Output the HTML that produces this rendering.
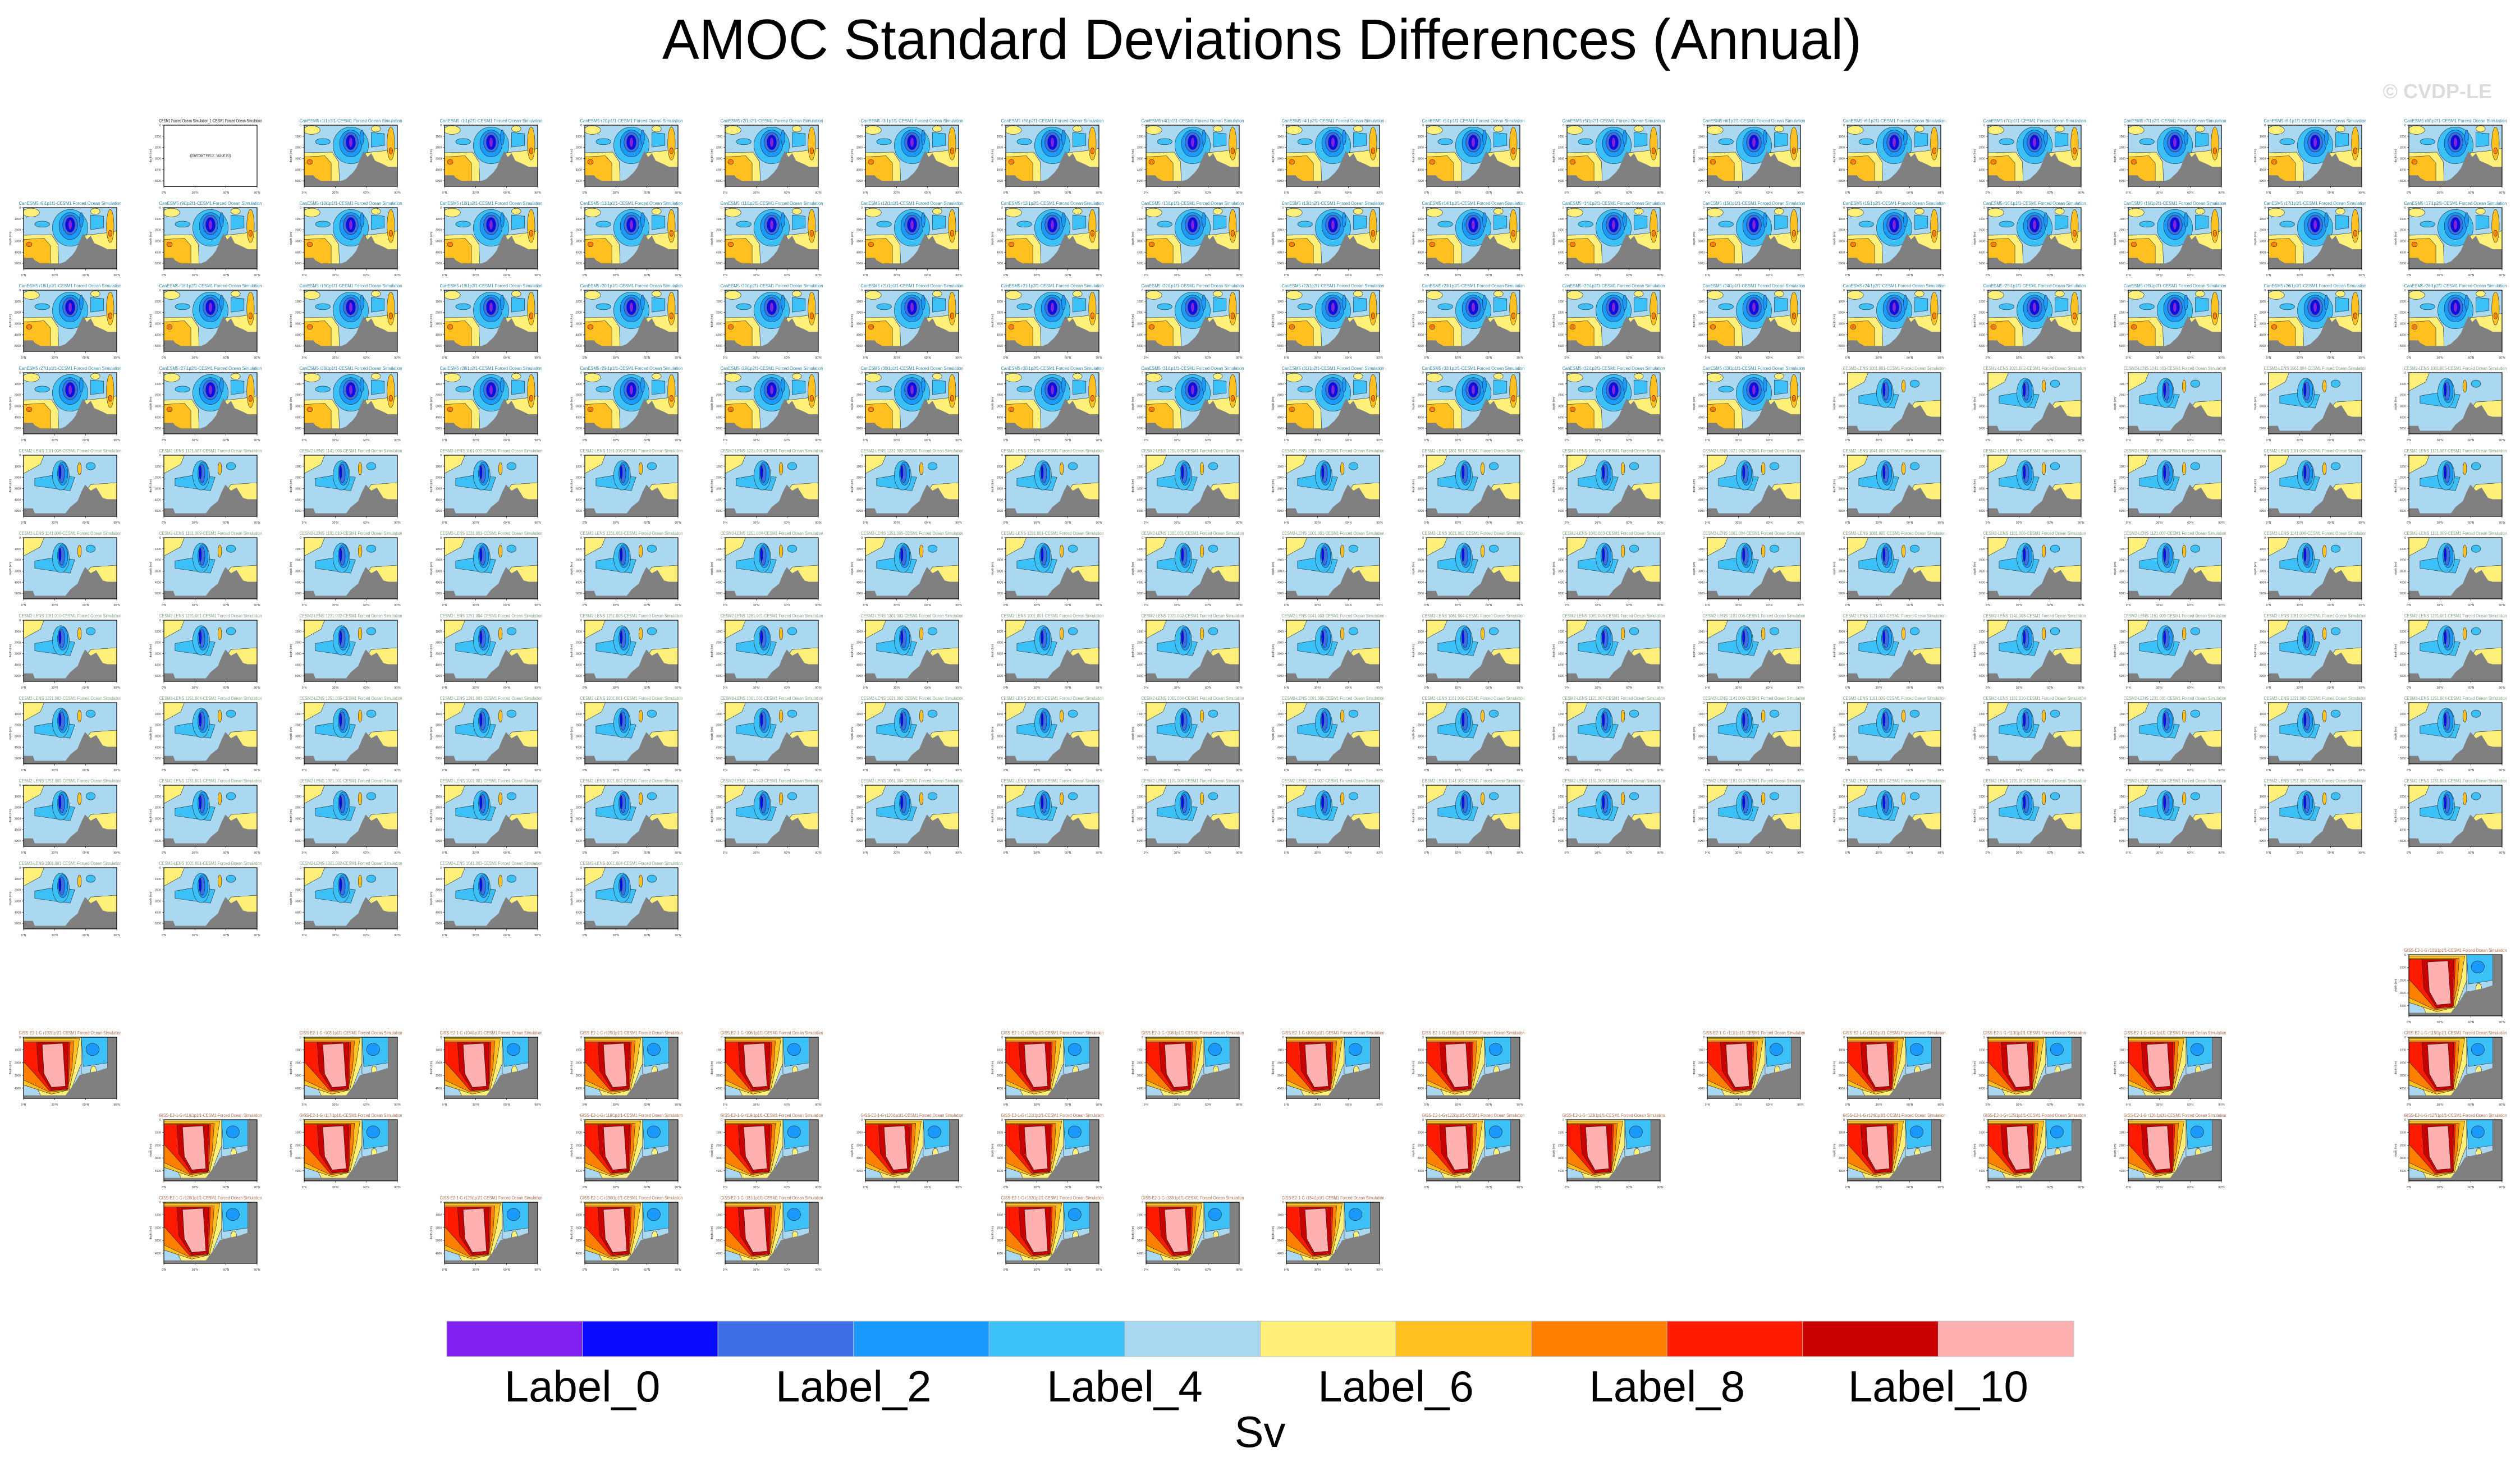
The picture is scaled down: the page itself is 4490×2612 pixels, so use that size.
<!DOCTYPE html>
<html><head><meta charset="utf-8"><title>AMOC Standard Deviations Differences (Annual)</title>
<style>html,body{margin:0;padding:0;background:#fff}svg{display:block;font-family:"Liberation Sans",sans-serif}</style>
</head><body>
<svg id="fig" xmlns="http://www.w3.org/2000/svg" width="4490" height="2612" viewBox="0 0 4490 2612">
<rect width="4490" height="2612" fill="#fff"/>
<text x="1180" y="105" font-size="101" textLength="2137" lengthAdjust="spacingAndGlyphs">AMOC Standard Deviations Differences (Annual)</text>
<text x="4440" y="175" font-size="36" font-weight="bold" fill="#dcdcdc" text-anchor="end">© CVDP-LE</text>
<g id="panels"></g>
<g id="cbar"></g>
</svg>
<script>
const colorbarColors = ["#8020EE","#0A0AFF","#3E6EE6","#1A9AFF","#3CC0F8","#AAD8F0","#FFF07A","#FFC020","#FF8000","#FF1A00","#C80000","#FFB0B0"];
const colorbarLabels = ["Label_0","Label_2","Label_4","Label_6","Label_8","Label_10"];
const yTickLabels = ["0","1000","2000","3000","4000","5000"];
const xTickLabels = ["0°N","30°N","60°N","90°N"];
const upperRows = [
  [1,2,3,4,5,6,7,8,9,10,11,12,13,14,15,16,17],
  [0,1,2,3,4,5,6,7,8,9,10,11,12,13,14,15,16,17],
  [0,1,2,3,4,5,6,7,8,9,10,11,12,13,14,15,16,17],
  [0,1,2,3,4,5,6,7,8,9,10,11,12,13,14,15,16,17],
  [0,1,2,3,4,5,6,7,8,9,10,11,12,13,14,15,16,17],
  [0,1,2,3,4,5,6,7,8,9,10,11,12,13,14,15,16,17],
  [0,1,2,3,4,5,6,7,8,9,10,11,12,13,14,15,16,17],
  [0,1,2,3,4,5,6,7,8,9,10,11,12,13,14,15,16,17],
  [0,1,2,3,4,5,6,7,8,9,10,11,12,13,14,15,16,17],
  [0,1,2,3,4]
];
const lowerRows = [
  [17],
  [0,2,3,4,5,7,8,9,10,12,13,14,15,17],
  [1,2,4,5,6,7,10,11,13,14,15,17],
  [1,3,4,5,7,8,9]
];
const NS="http://www.w3.org/2000/svg";
const PW=166, PH=109;
function colX(c){return 42+250*c;}
function rowY(r){return 223+147*r;}
function lowY(r){return 1701+147*r;}
function el(tag,attrs,parent){const e=document.createElementNS(NS,tag);for(const k in attrs)e.setAttribute(k,attrs[k]);if(parent)parent.appendChild(e);return e;}

const tA=[
 ["#FFF07A","E",.08,.08,.09,.07],
 ["#3CC0F8","E",.2,.27,.08,.05],
 ["#FFF07A","P",[[0,.45],[.3,.44],[.37,.6],[.38,1],[0,1]]],
 ["#FFC020","P",[[0,.52],[.22,.5],[.29,.62],[.29,.92],[0,.92]]],
 ["#FF8000","E",.06,.6,.03,.04],
 ["#3CC0F8","E",.5,.33,.19,.3],
 ["#1A9AFF","E",.5,.3,.12,.22],
 ["#3E6EE6","E",.5,.28,.08,.16],
 ["#0A0AFF","E",.5,.28,.05,.12],
 ["#8020EE","E",.5,.28,.02,.08],
 ["#FFF07A","P",[[.66,.45],[.85,.42],[1,.38],[1,1],[.6,1]]],
 ["#3CC0F8","P",[[.72,.12],[.86,.14],[.86,.33],[.72,.36]]],
 ["#1A9AFF","E",.62,.2,.02,.12],
 ["#FFF07A","E",.77,.06,.05,.05],
 ["#FFC020","E",.93,.3,.04,.27],
 ["#FF8000","E",.93,.42,.02,.05],
 ["#808080","P",[[0,.82],[.1,.82],[.12,.86],[.18,.91],[.4,.91],[.45,.88],[.52,.78],[.56,.7],[.6,.55],[.64,.42],[.68,.52],[.72,.46],[.76,.58],[.85,.64],[.9,.68],[1,.68],[1,1],[0,1]]]
];
const tB=[
 ["#FFF07A","P",[[0,0],[.22,0],[.18,.15],[0,.3]]],
 ["#3CC0F8","P",[[.12,.38],[.35,.32],[.55,.36],[.5,.58],[.35,.55],[.12,.5]]],
 ["#3CC0F8","E",.4,.33,.09,.24],
 ["#1A9AFF","E",.42,.3,.055,.19],
 ["#3E6EE6","E",.41,.3,.03,.15],
 ["#0A0AFF","E",.39,.28,.013,.11],
 ["#FFC020","E",.6,.22,.02,.1],
 ["#3CC0F8","E",.72,.18,.05,.06],
 ["#FFF07A","P",[[.72,.48],[1,.45],[1,1],[.6,1],[.62,.7]]],
 ["#808080","P",[[0,.87],[.1,.87],[.12,.95],[.45,.95],[.5,.85],[.58,.75],[.62,.6],[.66,.48],[.72,.58],[.78,.53],[.85,.7],[.9,.72],[1,.72],[1,1],[0,1]]]
];
const tC=[
 ["#FFF07A","P",[[0,0],[.66,0],[.66,.3],[.6,.5],[.5,.9],[.42,1],[0,1]]],
 ["#AAD8F0","P",[[0,.78],[.15,.85],[.2,1],[0,1]]],
 ["#FFC020","P",[[0,.02],[.6,.02],[.56,.4],[.49,.86],[.3,.93],[0,.78]]],
 ["#FF8000","P",[[0,.06],[.54,.06],[.52,.5],[.47,.86],[.28,.9],[0,.7]]],
 ["#FF1A00","P",[[0,.08],[.5,.08],[.48,.84],[.28,.88],[.12,.6],[0,.4]]],
 ["#C80000","P",[[.14,.08],[.48,.08],[.47,.85],[.3,.87],[.16,.55]]],
 ["#FFB0B0","P",[[.2,.12],[.42,.1],[.45,.8],[.3,.82],[.22,.6]]],
 ["#AAD8F0","P",[[.62,0],[.9,0],[.9,.62],[.62,.6]]],
 ["#3CC0F8","P",[[.62,0],[.9,0],[.9,.42],[.64,.48]]],
 ["#1A9AFF","E",.74,.2,.07,.1],
 ["#FFF07A","E",.75,.55,.03,.08],
 ["#808080","P",[[.9,0],[1,0],[1,1],[0,1],[0,.95],[.45,.95],[.55,.75],[.6,.62],[.7,.58],[.8,.55],[.9,.5]]]
];

function drawShapes(g,tpl,x0,y0){
  tpl.forEach(s=>{
    if(s[1]==="E"){
      el("ellipse",{cx:x0+s[2]*PW,cy:y0+s[3]*PH,rx:s[4]*PW,ry:s[5]*PH,fill:s[0],stroke:"#222","stroke-width":0.6},g);
    }else{
      const pts=s[2].map(p=>(x0+p[0]*PW).toFixed(1)+","+(y0+p[1]*PH).toFixed(1)).join(" ");
      el("polygon",{points:pts,fill:s[0],stroke:s[0]==="#808080"?"none":"#222","stroke-width":0.6},g);
    }
  });
}

function drawPanel(parent,x0,y0,type,title,tcolor){
  const g=el("g",{},parent);
  
  
  const t=el("text",{x:x0+PW/2,y:y0-5,"font-size":8,"text-anchor":"middle",fill:tcolor,textLength:183,lengthAdjust:"spacingAndGlyphs"},g);
  t.textContent=title;
  
  
  const cp="c"+Math.round(x0)+"_"+Math.round(y0);
  const clip=el("clipPath",{id:cp},g);el("rect",{x:x0,y:y0,width:PW,height:PH},clip);
  const inner=el("g",{"clip-path":"url(#"+cp+")"},g);
  if(type==="A"){el("rect",{x:x0,y:y0,width:PW,height:PH,fill:"#AAD8F0"},inner);drawShapes(inner,tA,x0,y0);}
  else if(type==="B"){el("rect",{x:x0,y:y0,width:PW,height:PH,fill:"#AAD8F0"},inner);drawShapes(inner,tB,x0,y0);}
  else if(type==="C"){el("rect",{x:x0,y:y0,width:PW,height:PH,fill:"#AAD8F0"},inner);drawShapes(inner,tC,x0,y0);}
  else{const b=el("text",{x:x0+PW/2,y:y0+PH/2+2,"font-size":5,"text-anchor":"middle"},g);b.textContent="CONSTANT FIELD - VALUE IS 0";
    el("rect",{x:x0+48,y:y0+PH/2-3,width:70,height:7,fill:"none",stroke:"#444","stroke-width":0.6},g);
    el("line",{x1:x0,y1:y0+PH,x2:x0+PW,y2:y0+PH,stroke:"#aaa","stroke-width":2},g);}
  el("rect",{x:x0,y:y0,width:PW,height:PH,fill:"none",stroke:"#000","stroke-width":1.2},g);
  const nY= type==="C"?5:6;
  for(let i=0;i<nY;i++){
    const yy=y0+i*(PH/(type==="C"?4.8:5.5));
    el("line",{x1:x0-3,y1:yy,x2:x0,y2:yy,stroke:"#000","stroke-width":0.6},g);
    const l=el("text",{x:x0-5,y:yy+2,"font-size":5,"text-anchor":"end",fill:"#333"},g);l.textContent=yTickLabels[i];
  }
  const yl=el("text",{x:x0-22,y:y0+PH/2,"font-size":5,"text-anchor":"middle",fill:"#333",transform:"rotate(-90 "+(x0-22)+" "+(y0+PH/2)+")"},g);yl.textContent="depth (km)";
  xTickLabels.forEach((s,i)=>{
    const xx=x0+i*PW/3;
    el("line",{x1:xx,y1:y0+PH,x2:xx,y2:y0+PH+3,stroke:"#000","stroke-width":0.6},g);
    const l=el("text",{x:xx,y:y0+PH+13,"font-size":5,"text-anchor":"middle",fill:"#333"},g);l.textContent=s;
  });
}

const panels=document.getElementById("panels");
let canN=0,cesmN=0,gissN=0;
const cesmIds=["1001.001","1021.002","1041.003","1061.004","1081.005","1101.006","1121.007","1141.008","1161.009","1181.010","1231.001","1231.002","1251.004","1251.005","1281.001","1301.001"];
upperRows.forEach((cols,r)=>{
  cols.forEach(c=>{
    const x0=colX(c),y0=rowY(r);
    if(r===0&&c===1){drawPanel(panels,x0,y0,"X","CESM1 Forced Ocean Simulation_1-CESM1 Forced Ocean Simulation","#111");return;}
    const isA = r<3 || (r===3&&c<=12);
    if(isA){canN++;const m=Math.floor((canN-1)/2)+1;const p=(canN%2)?1:2;
      drawPanel(panels,x0,y0,"A","CanESM5 r"+m+"i1p"+p+"f1-CESM1 Forced Ocean Simulation","#2f88a8");}
    else{cesmN++;const id=cesmIds[(cesmN-1)%cesmIds.length];
      drawPanel(panels,x0,y0,"B","CESM2-LENS "+id+"-CESM1 Forced Ocean Simulation","#7f9f7f");}
  });
});
lowerRows.forEach((cols,r)=>{
  cols.forEach(c=>{
    gissN++;
    drawPanel(panels,colX(c),lowY(r),"C","GISS-E2-1-G r"+(100+gissN)+"i1p1f1-CESM1 Forced Ocean Simulation","#a86a48");
  });
});

const cb=document.getElementById("cbar");
const cbX0=796,cbX1=3695,cbY=2354,cbH=63;
const cw=(cbX1-cbX0)/colorbarColors.length;
colorbarColors.forEach((col,i)=>{
  const r=el("rect",{x:cbX0+i*cw,y:cbY,width:cw,height:cbH,fill:col,stroke:"#bbb","stroke-width":1},cb);
  
  
});
colorbarLabels.forEach((s,i)=>{
  const t=el("text",{x:cbX0+(2*i+1)*cw,y:2497,"font-size":78,"text-anchor":"middle"},cb);
  t.textContent=s;
  
  
});
const sv=el("text",{x:2245,y:2578,"font-size":78,"text-anchor":"middle"},cb);
sv.textContent="Sv";


</script>
</body></html>
